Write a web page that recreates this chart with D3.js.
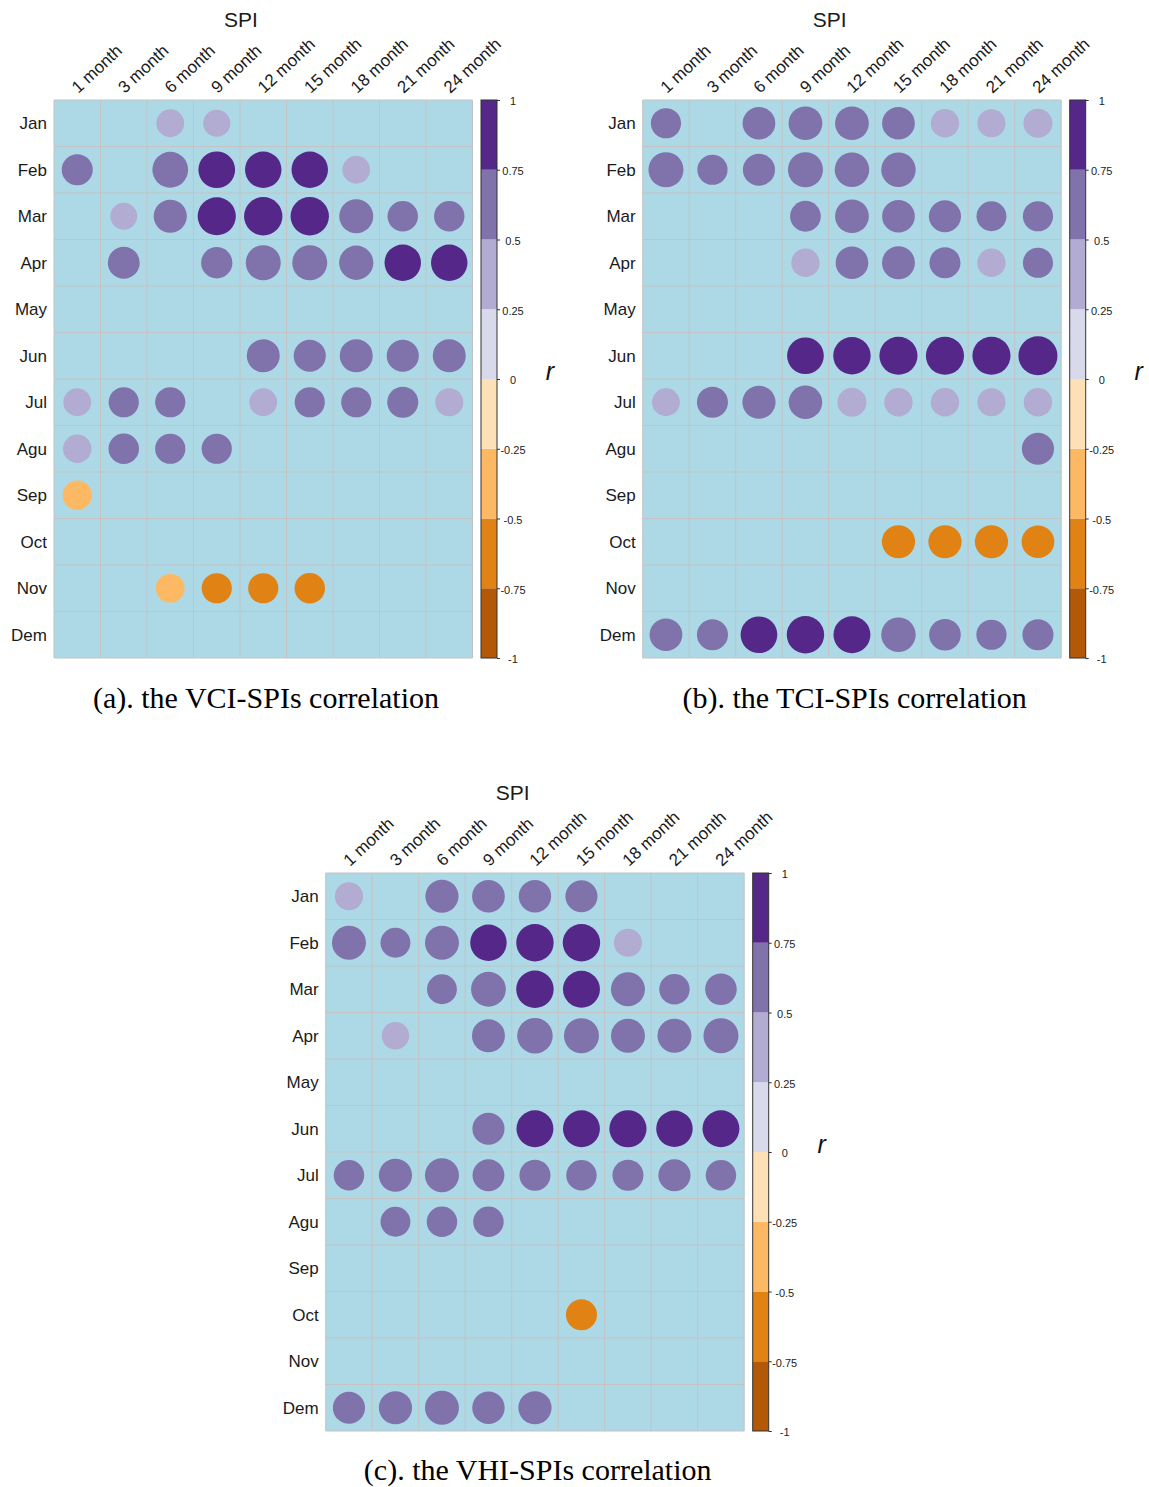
<!DOCTYPE html>
<html>
<head>
<meta charset="utf-8">
<script src="https://cdn.jsdelivr.net/npm/d3@7"></script>
<style>
  html, body { margin: 0; padding: 0; background: #ffffff; }
  svg { display: block; }
</style>
</head>
<body>
<svg id="chart" width="1149" height="1487"></svg>
<script>
// Row and column categories
const months = ["Jan", "Feb", "Mar", "Apr", "May", "Jun", "Jul", "Agu", "Sep", "Oct", "Nov", "Dem"];
const spiScales = ["1 month", "3 month", "6 month", "9 month", "12 month", "15 month", "18 month", "21 month", "24 month"];

// Significant correlation coefficients r (null = not significant, left blank)
const vciR = [
  [null, null, 0.44, 0.42, null, null, null, null, null],
  [0.55, null, 0.73, 0.77, 0.76, 0.76, 0.44, null, null],
  [null, 0.41, 0.63, 0.83, 0.84, 0.84, 0.66, 0.53, 0.53],
  [null, 0.58, null, 0.56, 0.70, 0.70, 0.67, 0.76, 0.76],
  [null, null, null, null, null, null, null, null, null],
  [null, null, null, null, 0.62, 0.59, 0.62, 0.59, 0.62],
  [0.44, 0.52, 0.52, null, 0.44, 0.52, 0.52, 0.55, 0.45],
  [0.46, 0.53, 0.52, 0.52, null, null, null, null, null],
  [-0.49, null, null, null, null, null, null, null, null],
  [null, null, null, null, null, null, null, null, null],
  [null, null, -0.47, -0.52, -0.52, -0.53, null, null, null],
  [null, null, null, null, null, null, null, null, null]
];

const tciR = [
  [0.52, null, 0.61, 0.65, 0.65, 0.61, 0.46, 0.45, 0.48],
  [0.70, 0.52, 0.59, 0.70, 0.68, 0.68, null, null, null],
  [null, null, null, 0.54, 0.65, 0.61, 0.59, 0.51, 0.52],
  [null, null, null, 0.46, 0.61, 0.62, 0.55, 0.46, 0.52],
  [null, null, null, null, null, null, null, null, null],
  [null, null, null, 0.77, 0.80, 0.83, 0.83, 0.83, 0.87],
  [0.44, 0.55, 0.63, 0.64, 0.48, 0.46, 0.46, 0.45, 0.46],
  [null, null, null, null, null, null, null, null, 0.59],
  [null, null, null, null, null, null, null, null, null],
  [null, null, null, null, null, -0.63, -0.63, -0.63, -0.61],
  [null, null, null, null, null, null, null, null, null],
  [0.61, 0.55, 0.77, 0.80, 0.78, 0.68, 0.57, 0.52, 0.55]
];

const vhiR = [
  [0.45, null, 0.63, 0.61, 0.60, 0.59, null, null, null],
  [0.66, 0.51, 0.66, 0.76, 0.80, 0.80, 0.45, null, null],
  [null, null, 0.51, 0.69, 0.80, 0.78, 0.66, 0.53, 0.57],
  [null, 0.43, null, 0.62, 0.72, 0.70, 0.66, 0.66, 0.70],
  [null, null, null, null, null, null, null, null, null],
  [null, null, null, 0.59, 0.78, 0.78, 0.79, 0.76, 0.78],
  [0.53, 0.63, 0.66, 0.58, 0.55, 0.53, 0.55, 0.59, 0.53],
  [null, 0.51, 0.53, 0.53, null, null, null, null, null],
  [null, null, null, null, null, null, null, null, null],
  [null, null, null, null, null, -0.55, null, null, null],
  [null, null, null, null, null, null, null, null, null],
  [0.59, 0.63, 0.66, 0.60, 0.63, null, null, null, null]
];

// Colour bar breaks and their labels
const colorBreaks = [-1, -0.75, -0.5, -0.25, 0, 0.25, 0.5, 0.75, 1];
const colorBarLabels = ["-1", "-0.75", "-0.5", "-0.25", "0", "0.25", "0.5", "0.75", "1"];
const palette = ["#b35806", "#e08214", "#fdb863", "#fee0b6", "#d8daeb", "#b2abd2", "#8073ac", "#542788"];

const captions = [
  "(a). the VCI-SPIs correlation",
  "(b). the TCI-SPIs correlation",
  "(c). the VHI-SPIs correlation"
];

const svg = d3.select("#chart");

const cell = 46.5;
const gridW = cell * spiScales.length;
const gridH = cell * months.length;

const fillScale = d3.scaleThreshold()
  .domain(colorBreaks.slice(1, -1))
  .range(palette);

function drawPanel(data, left, top, caption, captionGap) {
  const g = svg.append("g");

  const x = d3.scaleBand().domain(spiScales).range([left, left + gridW]);
  const y = d3.scaleBand().domain(months).range([top, top + gridH]);
  const rad = d3.scaleSqrt().domain([0, 1]).range([0, 0.45 * cell]);

  // cell background
  g.append("rect")
    .attr("x", left).attr("y", top)
    .attr("width", gridW).attr("height", gridH)
    .attr("fill", "#add8e6");

  // grid lines
  const gridCol = "#c3c3c3";
  g.selectAll("line.v").data(d3.range(spiScales.length + 1)).join("line")
    .attr("x1", i => left + i * x.bandwidth()).attr("x2", i => left + i * x.bandwidth())
    .attr("y1", top).attr("y2", top + gridH)
    .attr("stroke", gridCol).attr("stroke-width", 1);
  g.selectAll("line.h").data(d3.range(months.length + 1)).join("line")
    .attr("y1", i => top + i * y.bandwidth()).attr("y2", i => top + i * y.bandwidth())
    .attr("x1", left).attr("x2", left + gridW)
    .attr("stroke", gridCol).attr("stroke-width", 1);

  // circles: area proportional to |r|
  const cells = [];
  data.forEach((row, i) => row.forEach((v, j) => {
    if (v !== null) cells.push({ m: months[i], s: spiScales[j], v });
  }));
  g.selectAll("circle").data(cells).join("circle")
    .attr("cx", d => x(d.s) + x.bandwidth() / 2)
    .attr("cy", d => y(d.m) + y.bandwidth() / 2)
    .attr("r", d => rad(Math.abs(d.v)))
    .attr("fill", d => fillScale(d.v));

  // row labels
  g.selectAll("text.row").data(months).join("text")
    .attr("x", left - 7)
    .attr("y", d => y(d) + y.bandwidth() / 2)
    .attr("dy", "0.35em")
    .attr("text-anchor", "end")
    .attr("font-family", "Liberation Sans, Arial, sans-serif")
    .attr("font-size", 17)
    .attr("fill", "#1a1a1a")
    .text(d => d);

  // column labels, rotated
  g.selectAll("text.col").data(spiScales).join("text")
    .attr("transform", d => `translate(${x(d) + x.bandwidth() / 2 + 1},${top - 6}) rotate(-43)`)
    .attr("text-anchor", "start")
    .attr("font-family", "Liberation Sans, Arial, sans-serif")
    .attr("font-size", 17)
    .attr("fill", "#1a1a1a")
    .text(d => d);

  // axis group title
  g.append("text")
    .attr("x", left + 187)
    .attr("y", top - 73)
    .attr("text-anchor", "middle")
    .attr("font-family", "Liberation Sans, Arial, sans-serif")
    .attr("font-size", 21)
    .attr("fill", "#1a1a1a")
    .text("SPI");

  // colour bar
  const barX = left + gridW + 8.5;
  const barW = 16;
  const cb = d3.scaleLinear().domain([-1, 1]).range([top + gridH, top]);
  const blocks = d3.range(palette.length).map(i => ({ lo: colorBreaks[i], hi: colorBreaks[i + 1], c: palette[i] }));
  g.selectAll("rect.cb").data(blocks).join("rect")
    .attr("x", barX)
    .attr("y", d => cb(d.hi))
    .attr("width", barW)
    .attr("height", d => cb(d.lo) - cb(d.hi))
    .attr("fill", d => d.c);
  g.append("rect")
    .attr("x", barX).attr("y", top)
    .attr("width", barW).attr("height", gridH)
    .attr("fill", "none").attr("stroke", "#333").attr("stroke-width", 1);

  const axis = d3.axisRight(cb)
    .tickValues(colorBreaks)
    .tickSize(3)
    .tickFormat((d, i) => colorBarLabels[i]);
  const ax = g.append("g").attr("transform", `translate(${barX + barW},0)`).call(axis);
  ax.select(".domain").remove();
  ax.selectAll(".tick line").attr("stroke", "#333");
  ax.selectAll(".tick text")
    .attr("x", 16)
    .attr("dy", "0.45em")
    .attr("text-anchor", "middle")
    .attr("font-family", "Liberation Sans, Arial, sans-serif")
    .attr("font-size", 11)
    .attr("fill", "#222");

  g.append("text")
    .attr("x", barX + barW + 53)
    .attr("y", top + gridH / 2 + 1)
    .attr("text-anchor", "middle")
    .attr("font-family", "Liberation Sans, Arial, sans-serif")
    .attr("font-style", "italic")
    .attr("font-size", 25)
    .attr("fill", "#111")
    .text("r");

  // caption
  g.append("text")
    .attr("x", left + 212)
    .attr("y", top + gridH + captionGap)
    .attr("text-anchor", "middle")
    .attr("font-family", "Liberation Serif, Times New Roman, serif")
    .attr("font-size", 30)
    .attr("fill", "#000")
    .text(caption);
}

drawPanel(vciR, 54, 100, captions[0], 50);
drawPanel(tciR, 642.7, 100, captions[1], 50);
drawPanel(vhiR, 325.7, 873, captions[2], 48.5);
</script>
</body>
</html>
